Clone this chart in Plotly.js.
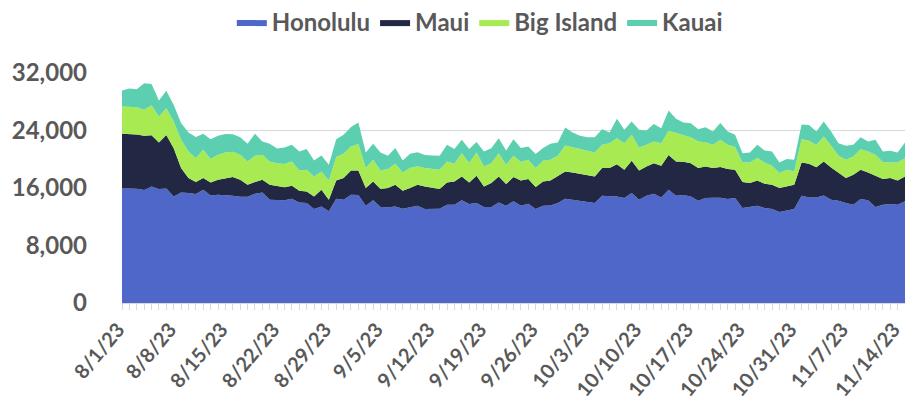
<!DOCTYPE html>
<html>
<head>
<meta charset="utf-8">
<script src="https://cdn.plot.ly/plotly-3.0.1.min.js"></script>
<style>html,body{margin:0;padding:0;background:#fff;}#chart{width:905px;height:405px;}</style>
</head>
<body>
<div id="chart"></div>
<script>
// Daily categories: 8/1/23 through 11/15/23
const startDate = '2023-08-01';
const dayCount = 107;

const seriesNames = ['Honolulu', 'Maui', 'Big Island', 'Kauai'];

const honolulu = [15990,15990,15900,15710,16220,15850,15940,14830,15390,15300,
 15160,15760,14970,15070,15020,14930,14790,14790,15200,15390,
 14370,14320,14280,14510,14000,13910,13070,13440,12750,14510,
 14370,15070,15020,13540,14280,13350,13310,13440,13120,13310,
 13540,13070,13070,13120,13680,13680,14280,13770,13910,13350,
 13350,14000,13540,14140,13540,13810,13070,13540,13580,13910,
 14510,14370,14230,14140,13910,14930,14930,14830,14600,15300,
 14370,14930,15200,14690,15760,14930,15020,14830,14230,14600,
 14650,14650,14460,14600,13210,13350,13540,13210,13070,12660,
 12840,13070,14930,14690,14690,14970,14370,14230,13910,13680,
 14460,14280,13350,13680,13770,13680,14140];

const maui = [7550,7500,7550,7550,7130,6480,7450,6710,3380,2080,
 1670,1620,1810,2080,2360,2590,2360,1670,1620,1760,
 2080,1900,1810,1810,1620,1620,1760,2320,1620,2550,
 3010,3380,3430,2450,2640,2500,2690,3010,2500,2690,
 2920,3150,2920,2730,3100,3240,3330,3010,3800,2870,
 3330,3610,3010,3380,3520,3430,3060,3380,3470,3800,
 3800,3800,3750,3700,3700,3840,3840,4490,3940,4490,
 4070,4070,4260,4400,4820,4770,4630,4630,4540,4400,
 4120,4260,4170,3940,3610,3330,3520,3380,3380,3330,
 3380,3380,4630,4680,4210,4720,4490,3840,3470,4170,
 4070,3890,4350,3570,3610,3380,3470];

const bigIsland = [3800,3800,3800,3610,4170,3610,3700,3700,3940,3700,
 3330,3940,3240,3470,3570,3520,3470,3240,3660,3470,
 3240,3240,3240,3380,2820,3010,2780,2550,2690,3240,
 3380,3330,3660,2780,3010,2590,2640,2920,2550,2780,
 2550,2550,2640,2690,2920,2450,3240,2690,3240,2780,
 2780,3240,2690,2960,2550,2690,2640,2870,2870,2780,
 3610,3520,3430,3380,3330,3240,3470,3610,3700,3610,
 3200,3010,3010,3150,3380,3940,3750,3610,3700,3380,
 3240,3800,3380,3150,2730,2870,3100,2960,2640,2080,
 2320,1850,3240,3200,3100,3470,3010,2410,2550,2550,
 2870,2920,2920,2360,2180,2500,2550];

const kauai = [2220,2550,2500,3700,2960,2220,2450,2320,2320,2640,
 2920,2220,2780,2640,2550,2450,2450,2450,3060,1850,
 2450,2040,2320,2320,2640,2870,2220,2220,2180,2500,
 2640,2690,3010,2180,2220,2500,1850,2180,1670,1990,
 1950,1810,1900,1950,2320,2040,1850,1950,1440,2080,
 2080,2080,1990,2320,1950,1850,1950,1760,2220,1850,
 2500,2040,1850,1850,2130,2180,1480,2690,1850,1850,
 2450,1990,2450,2080,2820,1990,1710,1950,1710,2080,
 1850,2320,1850,1710,1300,1390,1850,1670,1990,1480,
 1480,1620,2040,2180,1850,2080,1990,1760,1950,1620,
 1670,1390,2080,1480,1620,1390,2180];

const colors = ['#4e67c8', '#222744', '#a7ea52', '#5ccfb1'];

// build the daily date categories
const dates = [];
{
  const d0 = new Date(startDate + 'T00:00:00Z');
  for (let i = 0; i < dayCount; i++) {
    const d = new Date(d0.getTime() + i * 86400000);
    dates.push(d.toISOString().slice(0, 10));
  }
}

const seriesValues = [honolulu, maui, bigIsland, kauai];
const traces = seriesNames.map((name, k) => ({
  type: 'scatter',
  mode: 'lines',
  name: name,
  x: dates,
  y: seriesValues[k],
  stackgroup: 'one',
  fillcolor: colors[k],
  line: {color: colors[k], width: 0},
  hoverinfo: 'x+y+name'
}));

const labelFont = {family: 'Lato, "Open Sans", sans-serif', size: 24, color: '#595959', weight: 700};

const layout = {
  width: 905,
  height: 405,
  margin: {l: 122, r: 0, t: 72, b: 102},
  paper_bgcolor: '#ffffff',
  plot_bgcolor: '#ffffff',
  showlegend: true,
  legend: {
    orientation: 'h',
    x: 0.457, xanchor: 'center',
    yref: 'paper', y: 1.315, yanchor: 'top',
    traceorder: 'normal',
    font: labelFont,
    itemwidth: 30,
    bgcolor: 'rgba(0,0,0,0)'
  },
  xaxis: {
    type: 'date',
    range: [dates[0], dates[dates.length - 1]],
    tick0: dates[0],
    dtick: 7 * 86400000,
    tickformat: '%-m/%-d/%y',
    tickangle: -50,
    ticklabeloverflow: 'allow',
    ticklabelshift: -4,
    tickfont: {family: 'Lato, "Open Sans", sans-serif', size: 20, color: '#595959', weight: 700},
    ticks: 'outside',
    ticklen: 6,
    tickcolor: '#d9d9d9',
    minor: {dtick: 86400000, ticks: 'outside', ticklen: 6, tickcolor: '#d9d9d9', showgrid: false},
    showline: true,
    linecolor: '#d9d9d9',
    linewidth: 1,
    showgrid: false,
    zeroline: false,
    fixedrange: true
  },
  yaxis: {
    range: [0, 32000],
    dtick: 8000,
    tickformat: ',d',
    tickfont: labelFont,
    showgrid: true,
    gridcolor: '#d9d9d9',
    gridwidth: 1.5,
    zeroline: false,
    showline: false,
    ticks: '',
    ticklabelstandoff: 34,
    fixedrange: true
  }
};

Plotly.newPlot('chart', traces, layout, {displayModeBar: false, staticPlot: true});
</script>
</body>
</html>
